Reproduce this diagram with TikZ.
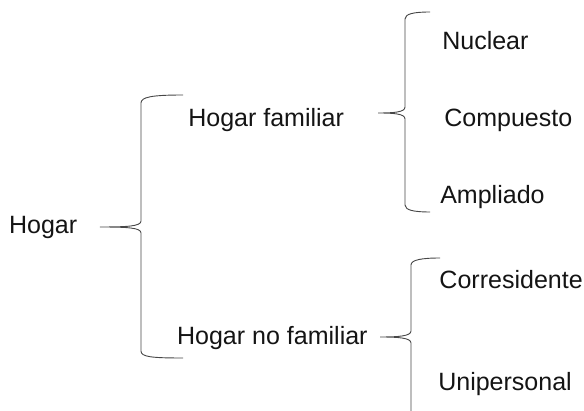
\documentclass[tikz,border=0pt]{standalone}
\usepackage{fontspec}
\setmainfont{Liberation Sans}
\usepackage{tikz}

\tikzset{
  rotulo/.style={anchor=base west, inner sep=0pt, text=black!92, font=\fontsize{17.8}{21}\selectfont},
  llave/.style={black!72, line width=0.65pt}
}

\begin{document}
\begin{tikzpicture}
\clip (0,0) rectangle (14.6,10.275);
\useasboundingbox (0,0) rectangle (14.6,10.275);
% textos
\node[rotulo] (hogar) at (0.22,4.425) {Hogar};
\node[rotulo] (familiar) at (4.7,7.11) {Hogar familiar};
\node[rotulo] (nofamiliar) at (4.42,1.67) {Hogar no familiar};
\node[rotulo] (nuclear) at (11.05,9.04) {Nuclear};
\node[rotulo] (compuesto) at (11.1,7.1) {Compuesto};
\node[rotulo] (ampliado) at (11.0,5.175) {Ampliado};
\node[rotulo] (corresidente) at (10.98,3.05) {Corresidente};
\node[rotulo] (unipersonal) at (10.95,0.51) {Unipersonal};
% puntas de las llaves
\coordinate (p1) at (2.5,4.6);
\coordinate (p2) at (9.45,7.45);
\coordinate (p3) at (9.5,1.85);
% llave de Hogar
\draw[llave] (4.575,7.9) .. controls (3.8,7.9) and (3.525,7.85) .. (3.525,7.7) -- (3.525,4.75)
  .. controls (3.525,4.62) and (3.2,4.6) .. (p1)
  .. controls (3.2,4.6) and (3.525,4.58) .. (3.525,4.45) -- (3.525,1.5)
  .. controls (3.525,1.35) and (3.8,1.325) .. (4.575,1.325);
% llave de Hogar familiar
\draw[llave] (10.75,9.975) .. controls (10.35,9.975) and (10.125,9.93) .. (10.125,9.8) -- (10.125,7.6)
  .. controls (10.125,7.47) and (9.85,7.45) .. (p2)
  .. controls (9.85,7.45) and (10.125,7.43) .. (10.125,7.3) -- (10.125,5.15)
  .. controls (10.125,5.02) and (10.35,4.975) .. (10.75,4.975);
% llave de Hogar no familiar
\draw[llave] (11.0,3.825) .. controls (10.55,3.825) and (10.275,3.78) .. (10.275,3.65) -- (10.275,2.0)
  .. controls (10.275,1.87) and (9.95,1.85) .. (p3)
  .. controls (9.95,1.85) and (10.275,1.83) .. (10.275,1.7) -- (10.275,-0.5);
\end{tikzpicture}
\end{document}
